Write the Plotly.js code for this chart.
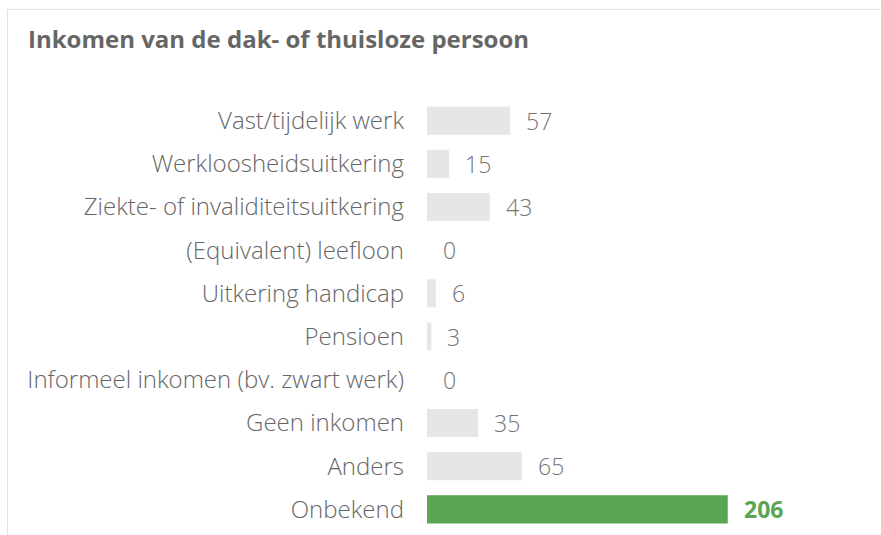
<!DOCTYPE html>
<html><head><meta charset="utf-8">
<script src="https://cdn.plot.ly/plotly-3.0.1.min.js"></script>
<style>
html,body{margin:0;padding:0;background:#fff;}
#chart{width:881px;height:535px;position:absolute;left:0;top:0;}
#frame{position:absolute;left:7px;top:9px;width:874px;height:526px;border-left:1px solid #e3e3e3;border-top:1px solid #e3e3e3;pointer-events:none;}
</style></head>
<body>
<div id="chart"></div>
<div id="frame"></div>
<script>
const categories = ["Vast/tijdelijk werk","Werkloosheidsuitkering","Ziekte- of invaliditeitsuitkering","(Equivalent) leefloon","Uitkering handicap","Pensioen","Informeel inkomen (bv. zwart werk)","Geen inkomen","Anders","Onbekend"];
const values = [57,15,43,0,6,3,0,35,65,206];
const highlight = "Onbekend";

const grey = "#e6e6e6", green = "#5aa552";
const colors = categories.map(c => c === highlight ? green : grey);

const annotations = categories.map((c,i) => ({
  x: values[i], y: c, xref: "x", yref: "y",
  text: String(values[i]),
  showarrow: false, xanchor: "left", xshift: 14,
  font: {family: "Open Sans", size: 23, weight: c === highlight ? 700 : 300, color: c === highlight ? green : "#737373"}
}));

const trace = {
  type: "bar", orientation: "h",
  x: values, y: categories,
  marker: {color: colors},
  hoverinfo: "none"
};

const layout = {
  width: 881, height: 535,
  margin: {l: 427, r: 89, t: 99, b: 4},
  paper_bgcolor: "#fff", plot_bgcolor: "#fff",
  bargap: 0.35,
  showlegend: false,
  title: {text: "Inkomen van de dak- of thuisloze persoon", x: 28/881, xanchor: "left", xref: "container", y: 1 - 40/535, yanchor: "middle", yref: "container",
          font: {family: "Open Sans", size: 24, weight: 700, color: "#666"}},
  xaxis: {range: [0, 250], visible: false, fixedrange: true},
  yaxis: {autorange: "reversed", showgrid: false, zeroline: false, showline: false, ticks: "", ticklabelstandoff: 22,
          tickfont: {family: "Open Sans", size: 24, weight: 300, color: "#666"}},
  annotations: annotations
};
Plotly.newPlot("chart", [trace], layout, {displayModeBar: false, staticPlot: true});
</script>
</body></html>
